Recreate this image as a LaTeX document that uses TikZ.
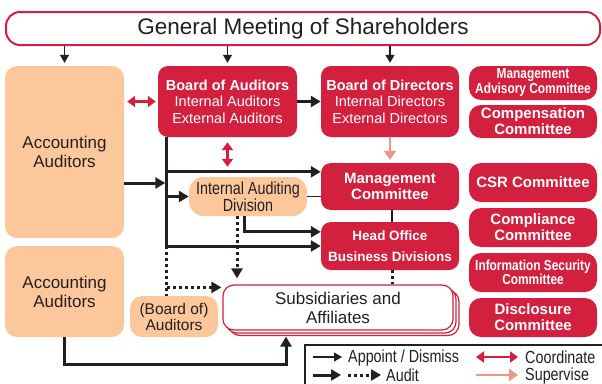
\documentclass[tikz,border=0pt]{standalone}
\usepackage{fontspec}
\setmainfont{Liberation Sans}
\newfontfamily\narrowfont[FakeStretch=0.82]{Liberation Sans}
\usetikzlibrary{arrows.meta}

\definecolor{boxred}{RGB}{210,32,62}
\definecolor{boxpeach}{RGB}{252,200,155}
\definecolor{supervpink}{RGB}{236,150,138}
\definecolor{inkgray}{RGB}{35,31,32}

\tikzset{
  redbox/.style={fill=boxred,text=white,rounded corners=10pt,inner sep=0pt,align=center},
  committee/.style={redbox,rounded corners=12pt,minimum width=128pt,minimum height=39pt,font=\fontsize{15}{16}\selectfont\bfseries},
  peachbox/.style={fill=boxpeach,text=inkgray,rounded corners=12pt,inner sep=0pt,align=center},
  whitebox/.style={draw=boxred,line width=1.2pt,fill=white,text=inkgray,rounded corners=11pt,inner sep=0pt,align=center},
  legendtext/.style={anchor=west,inner sep=0pt,text=inkgray,font=\narrowfont\fontsize{17.5}{18}\selectfont},
  thinline/.style={draw=inkgray,line width=1.2pt},
  thickline/.style={draw=inkgray,line width=3pt},
  thinarrow/.style={thinline,-{Triangle[length=8pt,width=9pt]}},
  thickarrow/.style={thickline,-{Triangle[length=10pt,width=11pt]}},
  dotline/.style={thickline,dash pattern=on 3pt off 3pt},
  dotarrow/.style={dotline,-{Triangle[length=10pt,width=11pt]}},
  coordarrow/.style={draw=boxred,line width=2.8pt,{Triangle[length=8pt,width=11pt]}-{Triangle[length=8pt,width=11pt]}},
  supervarrow/.style={draw=supervpink,line width=2.8pt,-{Triangle[length=9pt,width=12pt]}},
}

\begin{document}
\begin{tikzpicture}[x=1pt,y=-1pt]
\useasboundingbox (0,0) rectangle (602,383);

% top
\node[whitebox,line width=2pt,rounded corners=14pt,minimum width=594pt,minimum height=33pt,font=\fontsize{22.5}{26}\selectfont] (gms) at (303,28.5) {General Meeting of Shareholders};

% left column
\node[peachbox,minimum width=119pt,minimum height=172pt,font=\fontsize{17}{19}\selectfont] (acc1) at (64.5,152) {Accounting\\Auditors};
\node[peachbox,minimum width=119pt,minimum height=91pt,font=\fontsize{17}{19}\selectfont] (acc2) at (64.5,291.5) {Accounting\\Auditors};

% boards
\node[redbox,minimum width=139pt,minimum height=71pt,font=\fontsize{14.5}{16.5}\selectfont] (boa) at (227.5,101.5) {\textbf{Board of Auditors}\\Internal Auditors\\External Auditors};
\node[redbox,minimum width=138pt,minimum height=71pt,font=\fontsize{14.5}{16.5}\selectfont] (bod) at (390,101.5) {\textbf{Board of Directors}\\Internal Directors\\External Directors};
\node[redbox,minimum width=138pt,minimum height=47pt,font=\fontsize{15}{16}\selectfont\bfseries] (mgmt) at (390,186.5) {Management\\Committee};
\node[redbox,minimum width=138pt,minimum height=48pt,font=\fontsize{13.5}{21}\selectfont\bfseries] (hobd) at (390,246) {Head Office\\Business Divisions};

% committees
\node[committee,minimum height=34pt,font=\narrowfont\fontsize{14.5}{15}\selectfont\bfseries] (mac) at (533,83) {Management\\Advisory Committee};
\node[committee,minimum height=33pt] (comp) at (533,121.5) {Compensation\\Committee};
\node[committee] (csr) at (533,182.5) {CSR Committee};
\node[committee] (compl) at (533,227.5) {Compliance\\Committee};
\node[committee,font=\narrowfont\fontsize{14.5}{14}\selectfont\bfseries] (infosec) at (533,272.5) {Information Security\\Committee};
\node[committee] (discl) at (533,317.5) {Disclosure\\Committee};

% audit side
\node[peachbox,rounded corners=15pt,minimum width=118pt,minimum height=39pt,font=\narrowfont\fontsize{17.5}{16}\selectfont] (iad) at (248,196.5) {Internal Auditing\\Division};
\node[peachbox,minimum width=88pt,minimum height=41pt,font=\fontsize{15.5}{16}\selectfont] (boa2) at (174,316.5) {(Board of)\\Auditors};

% subsidiaries, stacked
\node[whitebox,minimum width=230pt,minimum height=45pt] (subsB) at (344,313) {};
\node[whitebox,minimum width=230pt,minimum height=45pt] (subsA) at (341,310.5) {};
\node[whitebox,minimum width=230pt,minimum height=45pt,font=\fontsize{17}{19}\selectfont] (subs) at (338,307.5) {Subsidiaries and\\Affiliates};

% appoint from the meeting
\draw[thinarrow,shorten >=3pt] (gms.south -| acc1.north) -- (acc1.north);
\draw[thinarrow,shorten >=3pt] (gms.south -| boa.north) -- (boa.north);
\draw[thinarrow,shorten >=3pt] (gms.south -| bod.north) -- (bod.north);

% spine under the board of auditors
\coordinate (spinetop) at ([xshift=9pt]boa.south west);
\coordinate (spinebot) at (spinetop |- hobd.west);
\coordinate (m1) at ([yshift=-9pt]mgmt.north west);
\coordinate (accin) at ([yshift=-31pt]acc1.east);
\draw[thickline] (spinetop) -- (spinebot);
\draw[thickarrow] (spinetop |- m1) -- (m1);
\draw[thickarrow] (spinetop |- iad.west) -- (iad.west);
\draw[thickarrow] (spinebot) -- (hobd.west);
\draw[thickarrow,shorten >=1.5pt] (accin) -- (accin -| spinetop);
\draw[thickarrow] (boa.east) -- (bod.west);

% coordinate / supervise
\draw[coordarrow,shorten <=3pt,shorten >=2pt] (acc1.east |- boa.west) -- (boa.west);
\draw[coordarrow,shorten <=5pt,shorten >=5pt] (boa.south) -- (boa.south |- m1);
\draw[supervarrow,shorten >=3pt] (bod.south) -- (mgmt.north);

% internal auditing division
\coordinate (iadbend) at ([xshift=-4pt]iad.south);
\coordinate (iaddot) at ([xshift=-11pt]iad.south);
\draw[thinline] (iad.east) -- (iad.east -| mgmt.west);
\draw[thickarrow] (iadbend) |- ([yshift=-10pt]hobd.north west);
\draw[dotarrow,shorten >=6pt] (iaddot) -- (iaddot |- subs.north);

% dotted audit into subsidiaries
\coordinate (boadot) at ([yshift=-3pt]subs.north west);
\draw[dotline] (spinebot) -- (spinebot |- boa2.north);
\draw[dotarrow,shorten >=1pt] (boadot -| spinetop) -- (boadot);

% management chain
\coordinate (mgmtdown) at ([xshift=2pt]mgmt.south);
\coordinate (hobddown) at ([xshift=2pt]hobd.south);
\draw[thinline] (mgmtdown) -- (mgmtdown |- hobd.north);
\draw[dotline] (hobddown) -- (hobddown |- subs.north);

% accounting auditors of the group
\coordinate (subsin) at ([xshift=-52pt,yshift=-6pt]subs.south);
\draw[thickarrow] (acc2.south) -- ++(0,27) -| (subsin);

% legend
\draw[thinline] (305,390) -- (305,345) -- (610,345);
\coordinate (lgA1) at (313,357); \coordinate (lgA2) at (342,357);
\coordinate (lgB1) at (476,357); \coordinate (lgB2) at (518,357);
\coordinate (lgC1) at (313,375); \coordinate (lgC2) at (341,375);
\coordinate (lgD1) at (348,375); \coordinate (lgD2) at (381,375);
\coordinate (lgE1) at (476,375); \coordinate (lgE2) at (518,375);
\draw[thinarrow] (lgA1) -- (lgA2);
\draw[coordarrow] (lgB1) -- (lgB2);
\draw[thickarrow] (lgC1) -- (lgC2);
\draw[dotarrow] (lgD1) -- (lgD2);
\draw[supervarrow] (lgE1) -- (lgE2);
\node[legendtext] (lgappoint) at (348,357.5) {Appoint / Dismiss};
\node[legendtext] (lgcoord) at (525,357.5) {Coordinate};
\node[legendtext] (lgaudit) at (386,375.5) {Audit};
\node[legendtext] (lgsuperv) at (525,375.5) {Supervise};
\end{tikzpicture}
\end{document}
